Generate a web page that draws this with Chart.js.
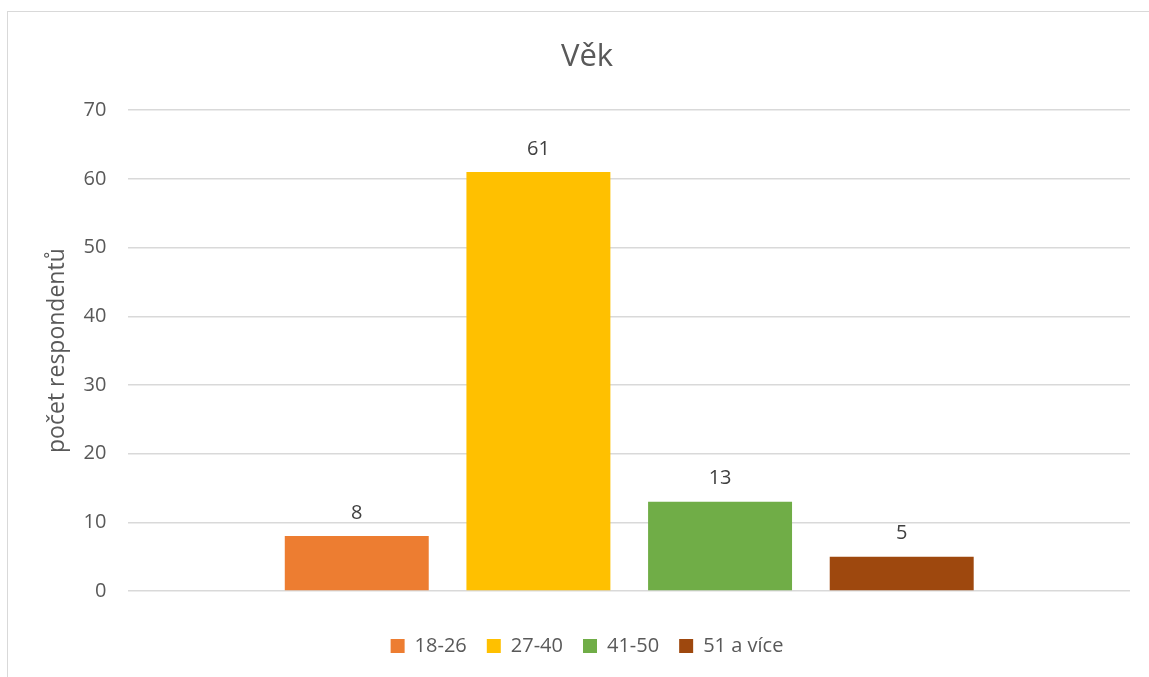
<!DOCTYPE html>
<html>
<head>
<meta charset="utf-8">
<script src="https://cdn.jsdelivr.net/npm/chart.js@4"></script>
<style>
  html, body { margin: 0; padding: 0; background: #fff; }
  #wrap { position: relative; width: 1149px; height: 677px; overflow: hidden; }
  #frame { position: absolute; left: 7px; top: 11px; width: 1160px; height: 700px; border: 1px solid #d9d9d9; box-sizing: border-box; }
  canvas { position: absolute; left: 0; top: 0; }
</style>
</head>
<body>
<div id="wrap">
  <div id="frame"></div>
  <canvas id="chart" width="1149" height="677"></canvas>
</div>
<script>
// data
const seriesNames = ['18-26', '27-40', '41-50', '51 a více'];
const seriesValues = [8, 61, 13, 5];
const seriesColors = ['#ED7D31', '#FFC000', '#70AD47', '#9E480E'];
const yTicks = [0, 10, 20, 30, 40, 50, 60, 70];

const textColor = '#595959';
const fontFamily = '"Open Sans", "Noto Sans", sans-serif';

// value labels above the bars
const valueLabels = {
  id: 'valueLabels',
  afterDatasetsDraw(chart) {
    const ctx = chart.ctx;
    ctx.save();
    ctx.fillStyle = '#404040';
    ctx.font = '20px ' + fontFamily;
    ctx.textAlign = 'center';
    ctx.textBaseline = 'bottom';
    chart.data.datasets.forEach((ds, i) => {
      const meta = chart.getDatasetMeta(i);
      meta.data.forEach((bar, j) => {
        ctx.fillText(ds.data[j], bar.x, bar.y - 13);
      });
    });
    ctx.restore();
  }
};

const datasets = seriesNames.map((name, i) => ({
  label: name,
  data: [seriesValues[i]],
  backgroundColor: seriesColors[i],
  categoryPercentage: 0.7255,
  barPercentage: 0.7925
}));

new Chart(document.getElementById('chart').getContext('2d'), {
  type: 'bar',
  data: { labels: [''], datasets },
  options: {
    responsive: false,
    animation: false,
    layout: { padding: { left: 44, right: 19, top: 20, bottom: 11 } },
    plugins: {
      title: {
        display: true,
        text: 'Věk',
        color: textColor,
        font: { family: fontFamily, size: 31, weight: 'normal' },
        padding: { top: 19, bottom: 34 }
      },
      legend: {
        position: 'bottom',
        labels: {
          color: textColor,
          font: { family: fontFamily, size: 20 },
          boxWidth: 14,
          boxHeight: 14,
          padding: 20
        }
      },
      tooltip: { enabled: false }
    },
    scales: {
      x: {
        grid: { display: false },
        border: { display: false },
        ticks: { display: false },
        afterFit: s => { s.height += 17; }
      },
      y: {
        min: 0,
        max: 70,
        afterBuildTicks: axis => { axis.ticks = yTicks.map(v => ({ value: v })); },
        afterFit: s => { s.width -= 20; },
        grid: { color: '#d9d9d9', lineWidth: 1.5, drawTicks: false },
        border: { display: false },
        ticks: {
          color: textColor,
          font: { family: fontFamily, size: 20 },
          padding: 22
        },
        title: {
          display: true,
          text: 'počet respondentů',
          color: textColor,
          font: { family: fontFamily, size: 23 },
          padding: { top: 0, bottom: 10 }
        }
      }
    }
  },
  plugins: [valueLabels]
});
</script>
</body>
</html>
